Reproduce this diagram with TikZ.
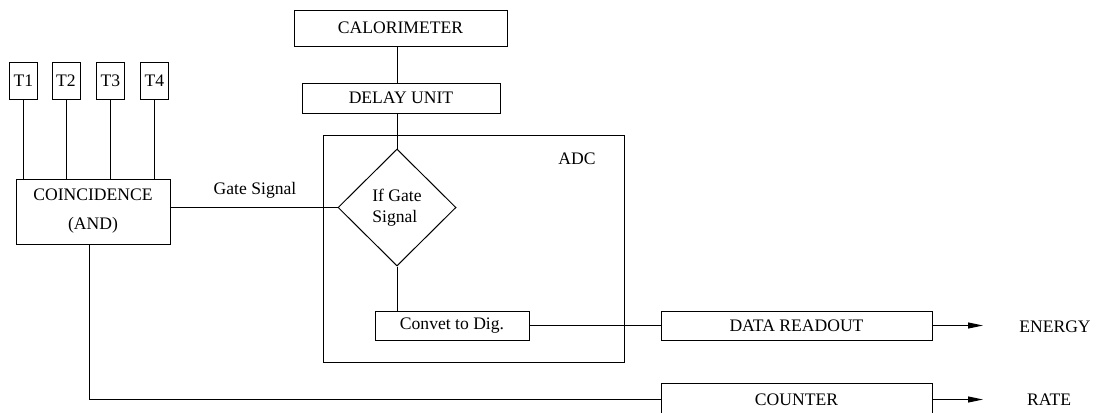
\documentclass[tikz,border=0pt]{standalone}
\usepackage{fontspec}
\setmainfont{Liberation Serif}
\usetikzlibrary{shapes.geometric,arrows.meta}
\begin{document}
\begin{tikzpicture}[x=0.5pt,y=-0.5pt,
  every node/.style={font=\fontsize{8.8}{10.5}\selectfont},
  box/.style={draw,line width=0.5pt,inner sep=0pt},
  wire/.style={line width=0.5pt},
  arr/.style={line width=0.5pt,-{Triangle[length=7.5pt,width=3pt]}},
  lbl/.style={inner sep=0pt}]
\useasboundingbox (0,0) rectangle (1096,412);
\clip (0,0) rectangle (1096,412);
% T boxes
\node[box,minimum width=14pt,minimum height=18.5pt] (t1) at (23.5,80.5) {T1};
\node[box,minimum width=14pt,minimum height=18.5pt] (t2) at (66,80.5) {T2};
\node[box,minimum width=14pt,minimum height=18.5pt] (t3) at (110.5,80.5) {T3};
\node[box,minimum width=14pt,minimum height=18.5pt] (t4) at (154.5,80.5) {T4};
% coincidence
\node[box,minimum width=77pt,minimum height=32.5pt,align=center] (co) at (93,211.5) {COINCIDENCE\\[4pt](AND)};
% calorimeter and delay
\node[box,minimum width=106.5pt,minimum height=18pt] (cal) at (400.5,28) {CALORIMETER};
\node[box,minimum width=99pt,minimum height=15pt] (del) at (401,98) {DELAY UNIT};
% ADC
\node[box,minimum width=150.5pt,minimum height=113.5pt] (adc) at (473.5,248.5) {};
\node[lbl] (adcl) at (577,159) {ADC};
\node[draw,line width=0.5pt,diamond,inner sep=0pt,minimum width=59pt,minimum height=58.5pt,align=left] (dia) at (397,207.5) {If Gate\\Signal};
\node[box,minimum width=77pt,minimum height=14.5pt] (cv) at (452,325.5) {Convet to Dig.};
% outputs
\node[box,minimum width=135.5pt,minimum height=14.5pt] (dr) at (796.5,325.5) {DATA READOUT};
\node[box,minimum width=135.5pt,minimum height=16pt] (cnt) at (796.5,399.5) {COUNTER};
\node[lbl] (en) at (1055,327) {ENERGY};
\node[lbl] (rt) at (1049,400) {RATE};
\node[lbl] (gs) at (255,190) {Gate Signal};
% coordinates
\coordinate (cb) at (89,244);
\coordinate (ea) at (983,325.5);
\coordinate (ra) at (983,399.5);
% connectors
\foreach \t in {t1,t2,t3,t4} \draw[wire] (\t.south) -- (\t.south |- co.north);
\draw[wire] (dia.north) -- (dia.north |- del.south);
\draw[wire] (dia.north |- del.north) -- (dia.north |- cal.south);
\draw[wire] (dia.west) -- (dia.west -| co.east);
\draw[wire] (dia.south) -- (dia.south |- cv.north);
\draw[wire] (cv.east) -- (dr.west);
\draw[wire] (cb) |- (cnt.west);
\draw[arr] (dr.east) -- (ea);
\draw[arr] (cnt.east) -- (ra);
\end{tikzpicture}
\end{document}
